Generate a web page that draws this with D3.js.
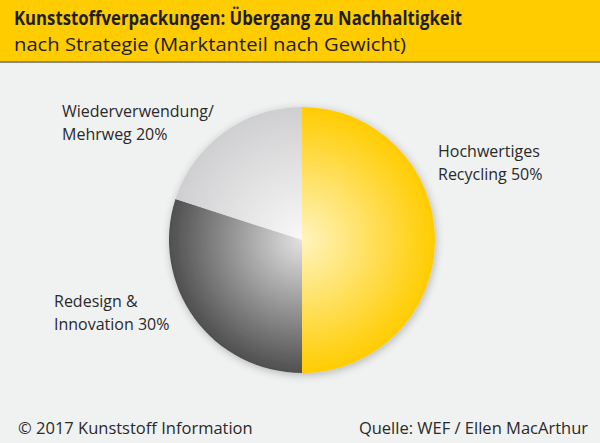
<!DOCTYPE html>
<html>
<head>
<meta charset="utf-8">
<script src="https://cdn.jsdelivr.net/npm/d3@7"></script>
<style>
  body { margin: 0; background: #f0f1f1; }
  svg { display: block; font-family: "Open Sans", sans-serif; }
</style>
</head>
<body>
<div id="chart"></div>
<script>
const categories = ["Hochwertiges Recycling", "Redesign & Innovation", "Wiederverwendung/ Mehrweg"];
const shares = [50, 30, 20];
const labelLines = [
    ["Hochwertiges", "Recycling 50%"],
    ["Redesign &", "Innovation 30%"],
    ["Wiederverwendung/", "Mehrweg 20%"]
];
const labelPos = [[438, 157], [54, 307], [62, 117]];

const width = 600, height = 443;
const cx = 302, cy = 240, radius = 133;

const svg = d3.select("#chart")
    .append("svg")
    .attr("width", width)
    .attr("height", height)
    .attr("viewBox", [0, 0, width, height]);

const defs = svg.append("defs");

// radial gradients: light centre, saturated rim (relative to pie centre)
const grads = [
    { id: "gYellow", inner: "#fff4bf", outer: "#ffcc00" },
    { id: "gDark", inner: "#e2e2e2", outer: "#4f4f4f" },
    { id: "gLight", inner: "#f8f8f8", outer: "#cfcfd1" }
];
grads.forEach(g => {
    const rg = defs.append("radialGradient")
        .attr("id", g.id)
        .attr("gradientUnits", "userSpaceOnUse")
        .attr("cx", 0).attr("cy", 0).attr("r", radius);
    rg.append("stop").attr("offset", "0%").attr("stop-color", g.inner);
    rg.append("stop").attr("offset", "100%").attr("stop-color", g.outer);
});

const shadow = defs.append("filter").attr("id", "shadow")
    .attr("x", "-20%").attr("y", "-20%").attr("width", "140%").attr("height", "140%");
shadow.append("feGaussianBlur").attr("in", "SourceAlpha").attr("stdDeviation", 4);
shadow.append("feOffset").attr("dx", 1).attr("dy", 2).attr("result", "b");
shadow.append("feComponentTransfer").append("feFuncA").attr("type", "linear").attr("slope", 0.25);
const merge = shadow.append("feMerge");
merge.append("feMergeNode");
merge.append("feMergeNode").attr("in", "SourceGraphic");

// header band
svg.append("rect")
    .attr("x", 0).attr("y", 0)
    .attr("width", width).attr("height", 62)
    .attr("fill", "#ffcc00");
svg.append("rect")
    .attr("x", 0).attr("y", 61)
    .attr("width", width).attr("height", 2)
    .attr("fill", "#8a8a80");

svg.append("text")
    .attr("x", 14).attr("y", 25)
    .attr("font-size", 19)
    .attr("font-weight", "bold")
    .attr("fill", "#1e1e1e")
    .attr("textLength", 448)
    .attr("lengthAdjust", "spacingAndGlyphs")
    .text("Kunststoffverpackungen: Übergang zu Nachhaltigkeit");

svg.append("text")
    .attr("x", 14).attr("y", 51)
    .attr("font-size", 19)
    .attr("fill", "#1e1e1e")
    .attr("textLength", 392)
    .attr("lengthAdjust", "spacingAndGlyphs")
    .text("nach Strategie (Marktanteil nach Gewicht)");

// pie
const pie = d3.pie().sort(null).value(d => d)(shares);
const arc = d3.arc().innerRadius(0).outerRadius(radius);

svg.append("g")
    .attr("transform", `translate(${cx},${cy})`)
    .attr("filter", "url(#shadow)")
    .selectAll("path")
    .data(pie)
    .join("path")
    .attr("d", arc)
    .attr("fill", (d, i) => `url(#${grads[i].id})`);

// labels
labelLines.forEach((lines, i) => {
    const t = svg.append("text")
        .attr("x", labelPos[i][0])
        .attr("y", labelPos[i][1])
        .attr("font-size", 16)
        .attr("fill", "#2a2a2a");
    lines.forEach((line, j) => {
        t.append("tspan")
            .attr("x", labelPos[i][0])
            .attr("dy", j === 0 ? 0 : 23)
            .text(line);
    });
});

// footer
svg.append("text")
    .attr("x", 18).attr("y", 434)
    .attr("font-size", 16.5)
    .attr("fill", "#2a2a2a")
    .text("© 2017 Kunststoff Information");

svg.append("text")
    .attr("x", 588).attr("y", 434)
    .attr("font-size", 16.5)
    .attr("fill", "#2a2a2a")
    .attr("text-anchor", "end")
    .text("Quelle: WEF / Ellen MacArthur");
</script>
</body>
</html>
